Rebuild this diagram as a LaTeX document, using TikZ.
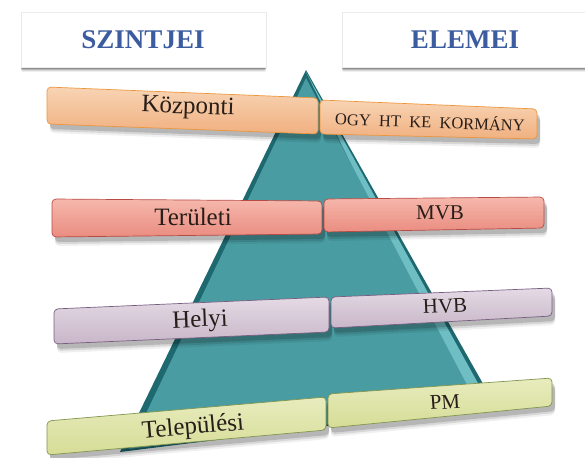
\documentclass[tikz,border=0pt]{standalone}
\usepackage{fontspec}
\setmainfont{Liberation Serif}
\definecolor{hdrblue}{RGB}{60,92,160}
\definecolor{txtc}{RGB}{40,30,25}
\definecolor{tealmain}{RGB}{72,156,162}
\definecolor{tealdark}{RGB}{30,105,112}
\definecolor{teallight}{RGB}{110,190,195}
\definecolor{orT}{RGB}{248,212,180}
\definecolor{orB}{RGB}{240,176,128}
\definecolor{orD}{RGB}{238,150,60}
\definecolor{rdT}{RGB}{246,184,172}
\definecolor{rdB}{RGB}{234,140,128}
\definecolor{rdD}{RGB}{185,75,70}
\definecolor{viT}{RGB}{228,218,228}
\definecolor{viB}{RGB}{200,182,200}
\definecolor{viD}{RGB}{120,95,130}
\definecolor{grT}{RGB}{232,236,190}
\definecolor{grB}{RGB}{214,220,150}
\definecolor{grD}{RGB}{130,150,80}
\begin{document}
\begin{tikzpicture}[x=1pt,y=-1pt,
  hdrbox/.style={fill=white, draw=black!8, line width=0.5pt},
  hdrtext/.style={font=\fontsize{27}{27}\selectfont\bfseries, text=hdrblue, inner sep=0pt},
  lbltext/.style={font=\fontsize{25}{25}\selectfont, text=txtc, inner sep=0pt},
  eltext/.style={font=\fontsize{21}{21}\selectfont, text=txtc, inner sep=0pt},
  orangebox/.style={top color=orT, bottom color=orB, draw=orD, line width=0.7pt},
  redbox/.style={top color=rdT, bottom color=rdB, draw=rdD, line width=0.7pt},
  violetbox/.style={top color=viT, bottom color=viB, draw=viD, line width=0.7pt},
  greenbox/.style={top color=grT, bottom color=grB, draw=grD, line width=0.7pt}
]
\useasboundingbox (0,0) rectangle (585,457);
\fill[white] (0,0) rectangle (585,457);

% header boxes with shadows
\foreach \o/\a in {5/0.06,4/0.10,3/0.15,2/0.22}{
  \fill[black, opacity=\a, rounded corners=2pt] (21,14+\o) rectangle (266,67+\o);
  \fill[black, opacity=\a, rounded corners=2pt] (342,14+\o) rectangle (590,67+\o);
}
\path[hdrbox] (21,12) rectangle (266,67);
\path[hdrbox] (342,12) rectangle (590,67);
\node[hdrtext] (hszint) at (143,40) {SZINTJEI};
\node[hdrtext] (helem) at (465,40) {ELEMEI};

% pyramid
\fill[tealdark] (306,70) -- (120,452) -- (495,405) -- cycle;
\fill[teallight] (306,72) -- (490,405) -- (470,407) -- cycle;
\fill[tealmain] (306,78) -- (129,449) -- (478,406) -- cycle;

% level boxes
\newcommand\lvlbox[5]{%
  \foreach \o/\a in {9/0.06,7/0.10,5/0.15}{
    \fill[black, opacity=\a, rounded corners=4pt, shift={(3,\o)}] #2 -- #3 -- #4 -- #5 -- cycle;
  }
  \path[#1, rounded corners=4pt] #2 -- #3 -- #4 -- #5 -- cycle;
}
% row 1
\lvlbox{orangebox}{(47,87)}{(318,98)}{(318,134)}{(47,124)}
\lvlbox{orangebox}{(320,100)}{(537,109)}{(537,139)}{(320,134)}
% row 2
\lvlbox{redbox}{(52,199)}{(322,201)}{(322,234)}{(52,237)}
\lvlbox{redbox}{(324,199)}{(544,197)}{(544,228)}{(324,232)}
% row 3
\lvlbox{violetbox}{(54,309)}{(329,297)}{(329,332)}{(54,344)}
\lvlbox{violetbox}{(331,297)}{(552,288)}{(552,316)}{(331,328)}
% row 4
\lvlbox{greenbox}{(47,421)}{(326,397)}{(326,430)}{(47,455)}
\lvlbox{greenbox}{(328,394)}{(552,378)}{(552,406)}{(328,428)}

% labels
\node[lbltext, rotate=-2] (kozp) at (188,108) {Központi};
\node[font=\fontsize{16.5}{16.5}\selectfont, text=txtc, inner sep=0pt, rotate=-2] (ogy) at (430,121) {OGY\ \ HT\ \ KE\ \ KORMÁNY};
\node[lbltext] (terul) at (193,217) {Területi};
\node[eltext] (mvb) at (440,213) {MVB};
\node[lbltext, rotate=2.5] (helyi) at (200,321) {Helyi};
\node[eltext, rotate=2.5] (hvb) at (445,306) {HVB};
\node[lbltext, rotate=5] (telep) at (193,428) {Települési};
\node[eltext, rotate=4] (pm) at (445,402) {PM};
\end{tikzpicture}
\end{document}
